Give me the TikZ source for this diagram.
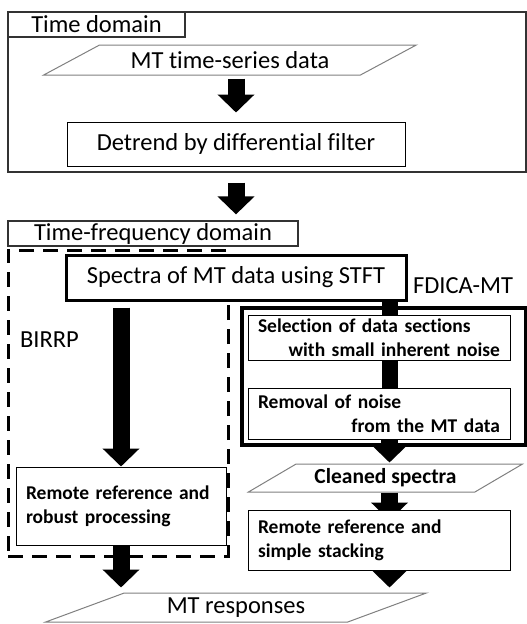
\documentclass[tikz,border=0pt]{standalone}
\usepackage{fontspec}
\setmainfont{Carlito}[Ligatures=CommonOff]
\usetikzlibrary{shapes.geometric,arrows.meta,backgrounds}

\begin{document}
\begin{tikzpicture}[
  x=1pt, y=-1pt,
  every node/.style={font=\fontsize{24.5}{28}\selectfont},
  frame/.style={draw=black!80, line width=1.2pt, inner sep=0pt},
  box/.style={draw=black, line width=1pt, fill=white, inner sep=0pt},
  bbox/.style={box, font=\fontsize{19.5}{24}\bfseries\selectfont, align=left, inner xsep=10pt, text width=#1},
  para/.style={trapezium, trapezium left angle=22, trapezium right angle=158, trapezium stretches=true, draw=black!50, line width=1pt, fill=white, inner sep=0pt},
  arw/.style={line width=17pt, -{Triangle[width=36pt,length=18pt]}},
  bar/.style={line width=16pt}
  ]

\useasboundingbox (0,0) rectangle (527,624);

% time domain
\node [frame, minimum width=518, minimum height=160] (timebox) at (267,92) {};
\node [frame, fill=white, minimum width=177, minimum height=25] (tdlabel) at (96.5,24.5) {Time domain};
\node [para, minimum width=374, minimum height=30] (tsdata) at (230,60) {MT time-series data};
\node [box, minimum width=338, minimum height=44] (detrend) at (236,144) {Detrend by differential filter};

% time-frequency domain
\node [frame, fill=white, minimum width=290, minimum height=25] (tflabel) at (153,233.5) {Time-frequency domain};
\node [draw, line width=3pt, dash pattern=on 15pt off 9pt, minimum width=220, minimum height=306] (birrp) at (118,403) {};
\node (birrplabel) at (49.5,340) {BIRRP};
\node [box, line width=3pt, minimum width=340, minimum height=45] (spectra) at (236,277.5) {Spectra of MT data using STFT};
\node (fdicalabel) at (463,286) {FDICA-MT};
\node [draw, line width=3.5pt, minimum width=284, minimum height=137] (fdica) at (384,376.5) {};
\node [bbox=242, minimum height=45] (selection) at (379,337.5) {Selection of data sections\\\hspace*{\fill}with small inherent noise};
\node [bbox=242, minimum height=51] (removal) at (379,413.5) {Removal of noise\\\hspace*{\fill}from the MT data};
\node [para, trapezium left angle=26, trapezium right angle=154, font=\fontsize{21.5}{24}\bfseries\selectfont, minimum width=275, minimum height=28] (cleaned) at (385.5,478) {Cleaned spectra};
\node [bbox=190, minimum height=78] (robust) at (121,506) {Remote reference and\\robust processing};
\node [bbox=242, minimum height=60] (simple) at (379,540) {Remote reference and\\simple stacking};
\node [para, minimum width=382, minimum height=29] (responses) at (236,607.5) {MT responses};

\coordinate (fx) at (389.5,0);

\begin{scope}[on background layer]
\draw [arw, shorten <=3pt, shorten >=9pt] (detrend.north |- tsdata.south) -- (detrend.north);
\draw [arw, shorten <=10pt, shorten >=6pt] (detrend.south |- timebox.south) -- (detrend.south |- tflabel.north);
\draw [arw, shorten <=6pt] (robust.north |- spectra.south) -- (robust.north);
\draw [bar] (fx |- spectra.south) -- (fx |- selection.north);
\draw [bar] (fx |- selection.south) -- (fx |- removal.north);
\draw [arw, shorten >=1pt] (fx |- removal.south) -- (fx |- cleaned.north);
\draw [arw, shorten >=-11pt] (fx |- cleaned.south) -- (fx |- simple.north);
\draw [arw, shorten >=5pt] (fx |- simple.south) -- (fx |- responses.north);
\draw [arw, shorten >=5pt] (robust.south) -- (robust.south |- responses.north);
\end{scope}

\end{tikzpicture}
\end{document}
